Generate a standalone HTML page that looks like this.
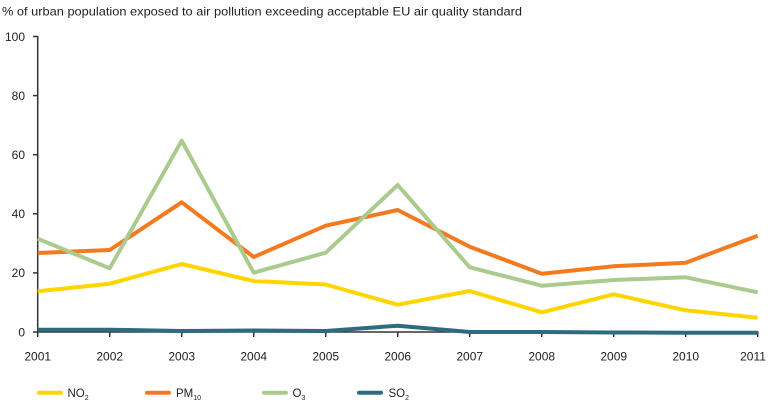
<!DOCTYPE html>
<html><head><meta charset="utf-8"><style>
html,body{margin:0;padding:0;background:#fff;}
svg{display:block;}
text{font-family:"Liberation Sans","DejaVu Sans",sans-serif;fill:#222;}
</style></head><body>
<svg width="768" height="404" viewBox="0 0 768 404" xmlns="http://www.w3.org/2000/svg">
<text x="2" y="15.5" font-size="12" textLength="520" lengthAdjust="spacingAndGlyphs">% of urban population exposed to air pollution exceeding acceptable EU air quality standard</text>
<g font-size="12" text-anchor="end">
<text x="25" y="40.8">100</text>
<text x="25" y="99.9">80</text>
<text x="25" y="159">60</text>
<text x="25" y="218.1">40</text>
<text x="25" y="277.2">20</text>
<text x="25" y="336.3">0</text>
</g>
<g stroke="#333" stroke-width="1.5" fill="none">
<line x1="37.7" y1="36" x2="37.7" y2="333"/>
<line x1="37" y1="332" x2="758.5" y2="332"/>
<line x1="33" y1="36.5" x2="37.7" y2="36.5"/>
<line x1="33" y1="95.6" x2="37.7" y2="95.6"/>
<line x1="33" y1="154.7" x2="37.7" y2="154.7"/>
<line x1="33" y1="213.8" x2="37.7" y2="213.8"/>
<line x1="33" y1="272.9" x2="37.7" y2="272.9"/>
<line x1="33" y1="332" x2="37.7" y2="332"/>
<line x1="37.7" y1="332" x2="37.7" y2="337"/>
<line x1="109.7" y1="332" x2="109.7" y2="337"/>
<line x1="181.7" y1="332" x2="181.7" y2="337"/>
<line x1="253.7" y1="332" x2="253.7" y2="337"/>
<line x1="325.7" y1="332" x2="325.7" y2="337"/>
<line x1="397.7" y1="332" x2="397.7" y2="337"/>
<line x1="469.7" y1="332" x2="469.7" y2="337"/>
<line x1="541.7" y1="332" x2="541.7" y2="337"/>
<line x1="613.7" y1="332" x2="613.7" y2="337"/>
<line x1="685.7" y1="332" x2="685.7" y2="337"/>
<line x1="757.7" y1="332" x2="757.7" y2="337"/>
</g>
<g font-size="12" text-anchor="middle">
<text x="37.7" y="360.3">2001</text>
<text x="109.7" y="360.3">2002</text>
<text x="181.7" y="360.3">2003</text>
<text x="253.7" y="360.3">2004</text>
<text x="325.7" y="360.3">2005</text>
<text x="397.7" y="360.3">2006</text>
<text x="469.7" y="360.3">2007</text>
<text x="541.7" y="360.3">2008</text>
<text x="613.7" y="360.3">2009</text>
<text x="685.7" y="360.3">2010</text>
<text x="753" y="360.3">2011</text>
</g>
<g fill="none" stroke-width="4" stroke-linejoin="round">
<polyline stroke="#FFD500" points="37.7,291.3 109.7,283.7 181.7,264 253.7,281 325.7,284.5 397.7,304.7 469.7,291 541.7,312.3 613.7,294.3 685.7,310.3 757.7,317.7"/>
<polyline stroke="#F47A20" points="37.7,253 109.7,250 181.7,202.3 253.7,257 325.7,225.7 397.7,210 469.7,246.7 541.7,273.7 613.7,266.3 685.7,262.7 757.7,235.7"/>
<polyline stroke="#ABCB8E" points="37.7,238.7 109.7,268.3 181.7,140.7 253.7,272.7 325.7,252.7 397.7,185 469.7,267.3 541.7,285.7 613.7,280 685.7,277.3 757.7,292.3"/>
<polyline stroke="#2E6B80" points="37.7,329.7 109.7,329.7 181.7,331 253.7,330.5 325.7,331 397.7,325.7 469.7,332 541.7,332 613.7,332.5 685.7,332.7 757.7,332.7"/>
</g>
<g stroke-width="4" stroke-linecap="round">
<line x1="39" y1="392.7" x2="61" y2="392.7" stroke="#FFD500"/>
<line x1="147" y1="392.7" x2="169" y2="392.7" stroke="#F47A20"/>
<line x1="264" y1="392.7" x2="286" y2="392.7" stroke="#ABCB8E"/>
<line x1="359" y1="392.7" x2="381" y2="392.7" stroke="#2E6B80"/>
</g>
<g font-size="11.5">
<text x="67.5" y="397">NO<tspan font-size="7" dy="3">2</tspan></text>
<text x="176" y="397">PM<tspan font-size="7" dy="3">10</tspan></text>
<text x="292.5" y="397">O<tspan font-size="7" dy="3">3</tspan></text>
<text x="388.5" y="397">SO<tspan font-size="7" dy="3">2</tspan></text>
</g>
</svg>
</body></html>
